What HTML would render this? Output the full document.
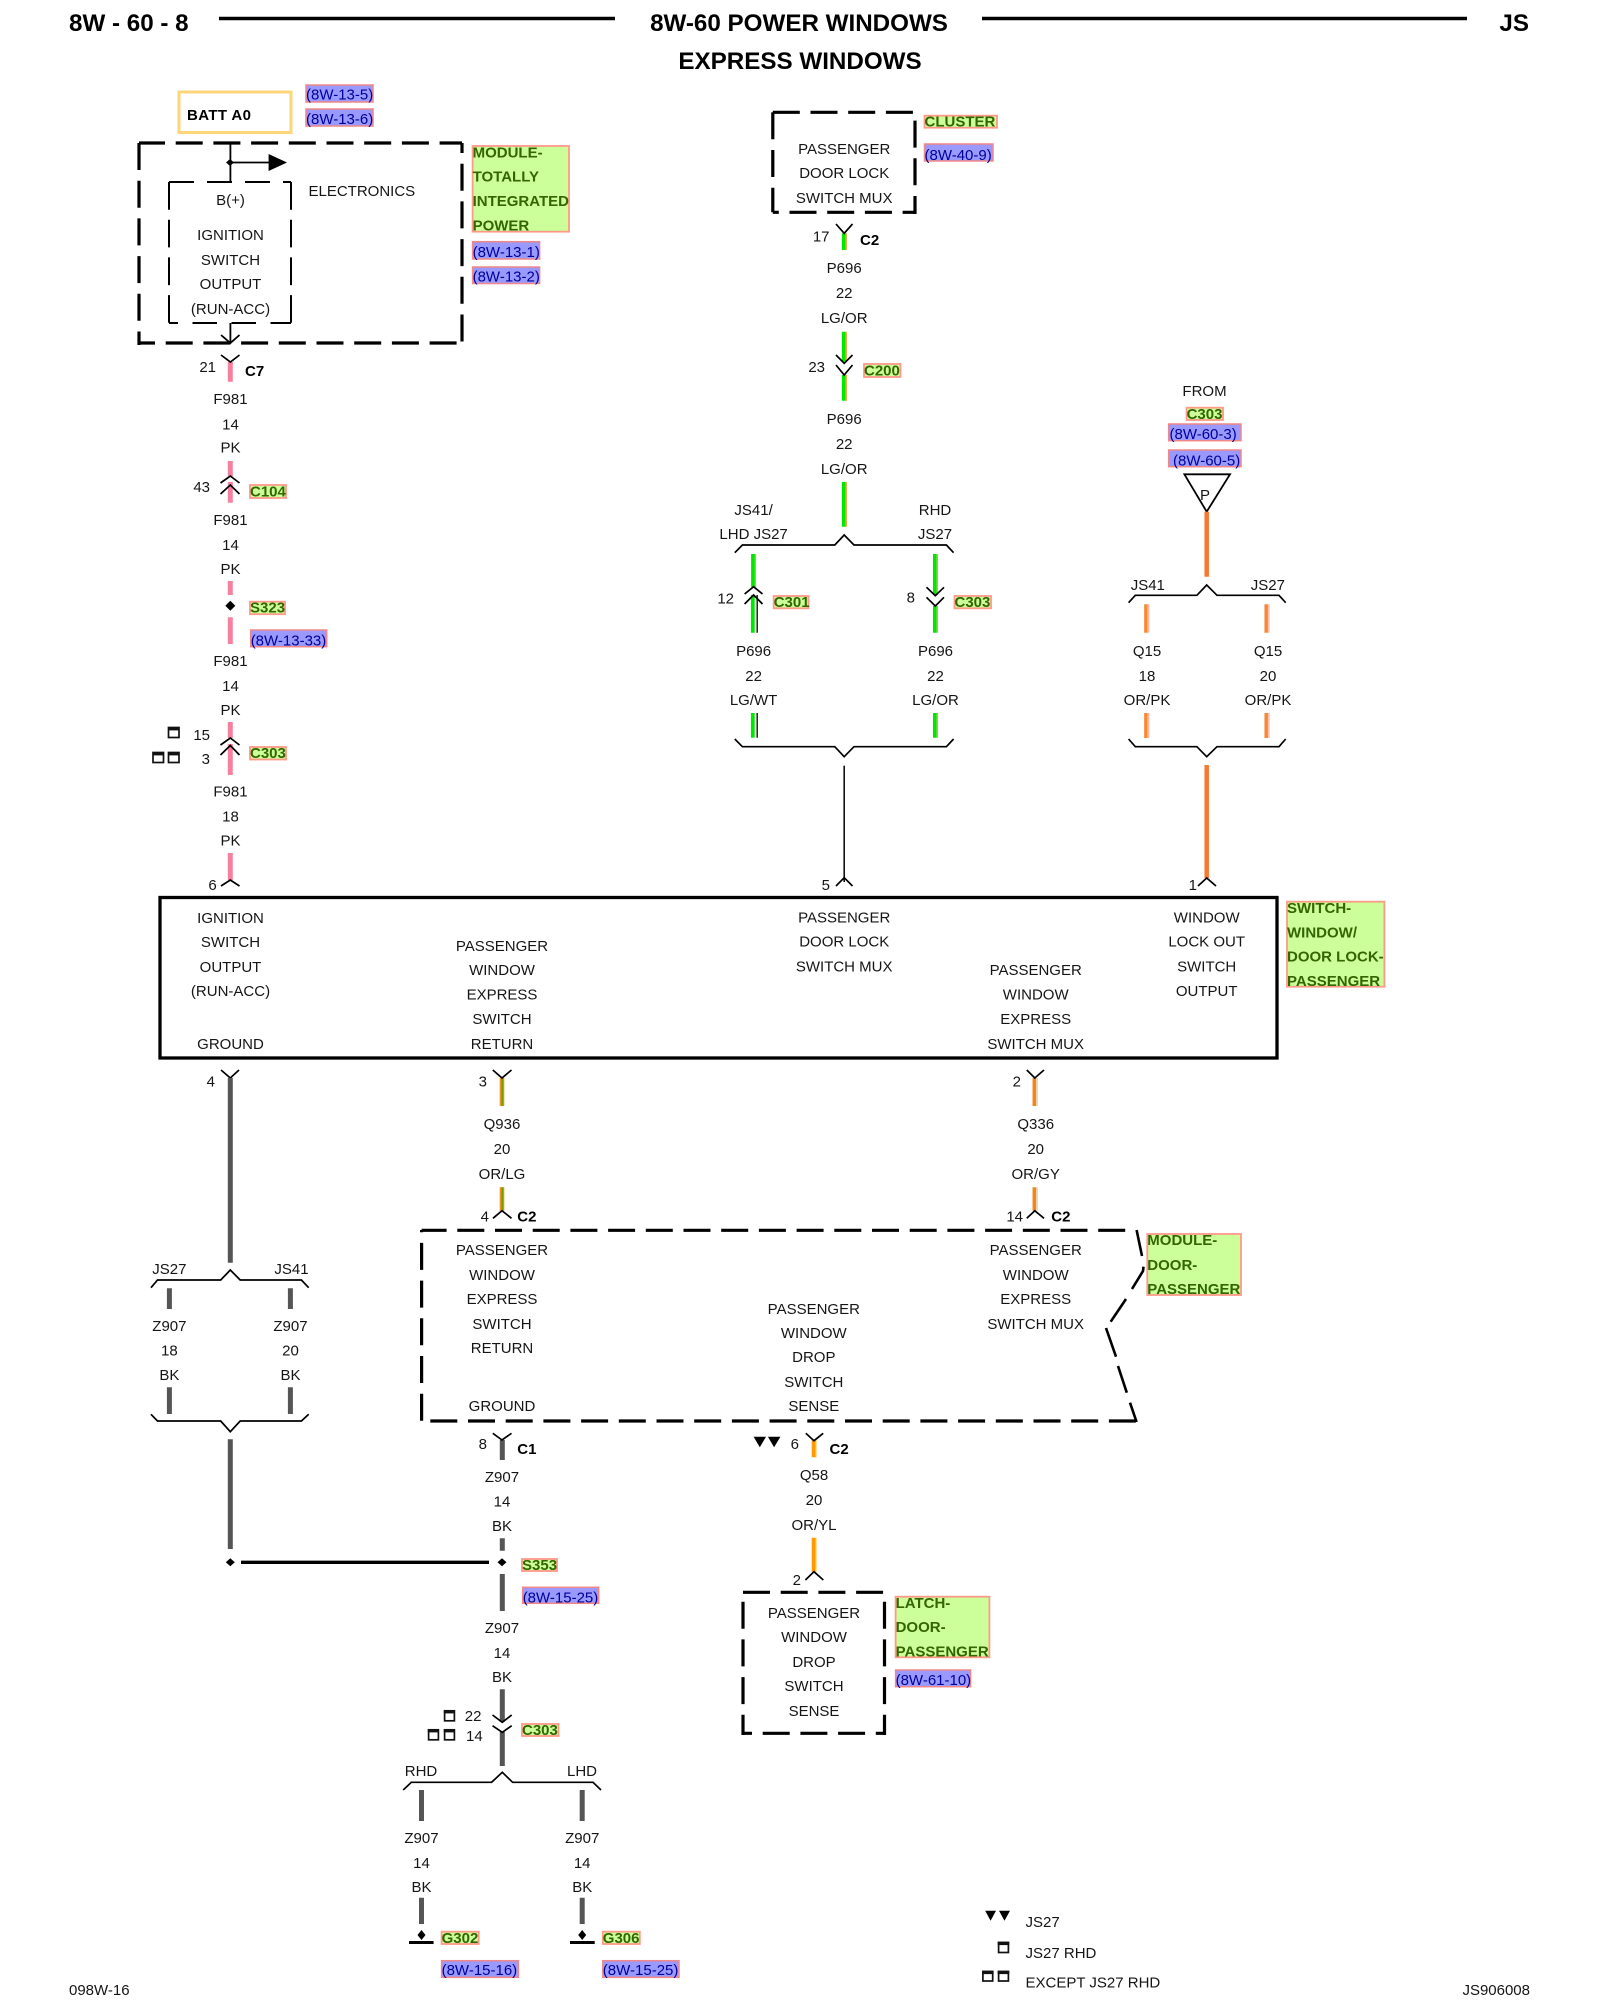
<!DOCTYPE html>
<html><head><meta charset="utf-8"><title>8W-60 Power Windows</title>
<style>
html,body{margin:0;padding:0;background:#fff}
svg{display:block}
text{font-family:"Liberation Sans",sans-serif;font-size:15px;fill:#151515}
.m{text-anchor:middle}.r{text-anchor:end}
.b{font-weight:bold;fill:#000}
.h{font-weight:bold;font-size:24.2px;fill:#000}
.g{font-weight:bold;fill:#336600}
.f{fill:#000099}
.lg{fill:#ccff99;stroke:#ff9988;stroke-width:1.8}
.lb{fill:#9999ff;stroke:#f08888;stroke-width:1.5}
.c{fill:none;stroke:#000;stroke-width:1.8}
.n{fill:none;stroke:#000;stroke-width:1.7}
.d4{fill:none;stroke:#000;stroke-width:3.2;stroke-dasharray:27 10.7}
.d2{fill:none;stroke:#000;stroke-width:2;stroke-dasharray:27.7 10}
.pk{stroke:#f8809f;stroke-width:5;fill:none}
.bk{stroke:#555;stroke-width:5;fill:none}
.i{fill:#fff;stroke:#111;stroke-width:1.7}
.ib{fill:#111}
</style></head><body>
<svg width="1600" height="2000" viewBox="0 0 1600 2000" xmlns="http://www.w3.org/2000/svg">
<rect width="1600" height="2000" fill="#fff"/>

<!-- header -->
<text class="h" x="69" y="31">8W - 60 - 8</text>
<path d="M219 18.5H615M982 18.5H1467" stroke="#000" stroke-width="3.4" fill="none"/>
<text class="h m" x="799" y="31">8W-60 POWER WINDOWS</text>
<text class="h m" x="800" y="69">EXPRESS WINDOWS</text>
<text class="h r" x="1529" y="31">JS</text>

<!-- BATT -->
<rect x="179" y="92" width="112" height="40.5" fill="#fff" stroke="#fdd67a" stroke-width="3"/>
<text class="b" x="187" y="120" textLength="64">BATT A0</text>
<rect class="lb" x="306" y="85" width="67" height="17"/><text class="f" x="306" y="99.5">(8W-13-5)</text>
<rect class="lb" x="306" y="109" width="67" height="17"/><text class="f" x="306" y="124">(8W-13-6)</text>

<!-- TIPM box -->
<path class="d4" d="M139 143H462" stroke-dashoffset="1"/>
<path class="d4" d="M139 343H462" stroke-dashoffset="11"/>
<path class="d4" d="M139 143V345"/>
<path class="d4" d="M462 143V343" stroke-dashoffset="17"/>
<path class="d2" style="stroke-dasharray:25 13" d="M169 182H291"/>
<path class="d2" style="stroke-dasharray:24.5 14.5" d="M169 323H291" stroke-dashoffset="15.5"/>
<path class="d2" d="M169 182V323"/>
<path class="d2" d="M291 182V323"/>
<path class="c" d="M230.4 143V182M230.4 162.5H270M230.4 323V343"/>
<polygon points="230,159 234,162.5 230,166 226,162.5" fill="#000"/>
<polygon points="268.6,154 287,162.5 268.6,171" fill="#000"/>
<path class="c" d="M221 335L230.4 343L239.5 335"/>
<text x="308.5" y="196">ELECTRONICS</text>
<text class="m" x="230.5" y="205">B(+)</text>
<text class="m" x="230.5" y="240">IGNITION</text>
<text class="m" x="230.5" y="265">SWITCH</text>
<text class="m" x="230.5" y="289">OUTPUT</text>
<text class="m" x="230.5" y="314">(RUN-ACC)</text>
<rect class="lg" x="472.6" y="146" width="96.4" height="85.7"/>
<text class="g" x="472.6" y="157.7">MODULE-</text>
<text class="g" x="472.6" y="181.7">TOTALLY</text>
<text class="g" x="472.6" y="206">INTEGRATED</text>
<text class="g" x="472.6" y="230.7">POWER</text>
<rect class="lb" x="472.6" y="241.7" width="67" height="17.3"/><text class="f" x="472.6" y="257">(8W-13-1)</text>
<rect class="lb" x="472.6" y="267" width="67" height="16.5"/><text class="f" x="472.6" y="281.7">(8W-13-2)</text>

<!-- F981 column -->
<path class="pk" d="M230.3 362V381.7M230.3 461V476.7M230.3 482V502.7M230.3 581V595M230.3 617.3V644M230.3 722V738M230.3 744V775M230.3 853V880"/>
<path class="n" d="M221 355L230.4 362L239.5 355"/>
<text class="r" x="216" y="372">21</text><text class="b" x="245" y="376">C7</text>
<text class="m" x="230.5" y="404">F981</text><text class="m" x="230.5" y="429.3">14</text><text class="m" x="230.5" y="452.7">PK</text>
<path class="n" d="M220.5 483L230.3 476L239.5 483M220.5 494L230.3 485L239.5 494"/>
<text class="r" x="210" y="492">43</text>
<rect class="lg" x="250" y="485" width="36" height="13"/><text class="g" x="250" y="496.7">C104</text>
<text class="m" x="230.5" y="525">F981</text><text class="m" x="230.5" y="550">14</text><text class="m" x="230.5" y="574">PK</text>
<polygon points="230.3,600.7 235.3,605.7 230.3,610.7 225.3,605.7" fill="#000"/>
<rect class="lg" x="250" y="601.7" width="35" height="12.5"/><text class="g" x="250" y="612.7">S323</text>
<rect class="lb" x="250.7" y="630" width="76" height="16.7"/><text class="f" x="250.7" y="645.7">(8W-13-33)</text>
<text class="m" x="230.5" y="666">F981</text><text class="m" x="230.5" y="691">14</text><text class="m" x="230.5" y="715">PK</text>
<path class="n" d="M220.5 745L230.3 738L239.5 745M220.5 755L230.3 745.5L239.5 755"/>
<text class="r" x="210" y="740">15</text><text class="r" x="210" y="764">3</text>
<rect class="i" x="168.5" y="727.5" width="10.5" height="10"/><rect class="ib" x="168" y="727" width="11.5" height="3.4"/>
<rect class="i" x="153" y="752.5" width="10.5" height="10"/><rect class="ib" x="152.5" y="752" width="11.5" height="3.4"/>
<rect class="i" x="168.5" y="752.5" width="10.5" height="10"/><rect class="ib" x="168" y="752" width="11.5" height="3.4"/>
<rect class="lg" x="250" y="747" width="36" height="12.5"/><text class="g" x="250" y="758">C303</text>
<text class="m" x="230.5" y="796.7">F981</text><text class="m" x="230.5" y="821.7">18</text><text class="m" x="230.5" y="845.7">PK</text>
<path class="n" d="M221 886L230.3 880L239.5 886"/>
<text class="r" x="216.7" y="890">6</text>

<!-- Cluster box -->
<path class="d4" d="M772.8 112.3H915"/>
<path class="d4" d="M772.8 212.3H915" stroke-dashoffset="21"/>
<path class="d4" d="M772.8 110.3V212.3" stroke-dashoffset="-2"/>
<path class="d4" d="M915 112.3V214" stroke-dashoffset="29.4"/>
<text class="m" x="844.2" y="154">PASSENGER</text><text class="m" x="844.2" y="178">DOOR LOCK</text><text class="m" x="844.2" y="203">SWITCH MUX</text>
<rect class="lg" x="924.5" y="115.7" width="72.5" height="12"/><text class="g" x="924.5" y="126.7">CLUSTER</text>
<rect class="lb" x="924.5" y="144" width="68.5" height="17"/><text class="f" x="924.5" y="160">(8W-40-9)</text>

<!-- P696 column -->
<g fill="none">
<path stroke="#00e800" stroke-width="3.8" d="M843.8 233.3V250M843.8 331.7V361.7M843.8 375V400.7M843.8 482V526.7M753 554V587M934.9 554V595M934.9 606V632.7M934.9 713V737.7"/>
<path stroke="#f2a040" stroke-width="1.2" d="M846.3 233.3V250M846.3 331.7V361.7M846.3 375V400.7M846.3 482V526.7M755.5 554V587M937.4 554V595M937.4 606V632.7M937.4 713V737.7"/>
<path stroke="#00e800" stroke-width="3.8" d="M752.8 595V632.7M752.8 713V737.7"/>
<path stroke="#222" stroke-width="1.5" d="M757.2 595V632.7M757.2 713V737.7"/>
</g>
<path class="n" d="M836 224L844.2 233.3L852.5 224"/>
<text class="r" x="829.5" y="241.7">17</text><text class="b" x="860" y="245">C2</text>
<text class="m" x="844.2" y="273">P696</text><text class="m" x="844.2" y="298">22</text><text class="m" x="844.2" y="323">LG/OR</text>
<path class="n" d="M836 355L844.2 363.3L852.5 355M836 365L844.2 375L852.5 365"/>
<text class="r" x="825" y="372">23</text>
<rect class="lg" x="864" y="364" width="36.5" height="13"/><text class="g" x="864" y="375.7">C200</text>
<text class="m" x="844.2" y="424">P696</text><text class="m" x="844.2" y="449">22</text><text class="m" x="844.2" y="474">LG/OR</text>
<text class="m" x="753.6" y="515">JS41/</text><text class="m" x="753.6" y="539">LHD JS27</text>
<text class="m" x="935" y="515">RHD</text><text class="m" x="935" y="539">JS27</text>
<path class="n" d="M734.8 552.7L742.4 545H834.8L844.2 535L854 545H946.4L953.6 552.7"/>
<path class="n" d="M744.6 594L753.6 586.7L762.5 594M744.6 604L753.6 595L762.5 604"/>
<text class="r" x="734" y="603.3">12</text>
<rect class="lg" x="773.7" y="596" width="34.8" height="12.3"/><text class="g" x="773.7" y="607">C301</text>
<path class="n" d="M926.5 587.3L935.3 595.7L944 587.3M926.5 597.3L935.3 606L944 597.3"/>
<text class="r" x="915" y="602.7">8</text>
<rect class="lg" x="954.5" y="596" width="36.5" height="12.3"/><text class="g" x="954.5" y="607">C303</text>
<text class="m" x="753.6" y="656">P696</text><text class="m" x="753.6" y="681">22</text><text class="m" x="753.6" y="705">LG/WT</text>
<text class="m" x="935.5" y="656">P696</text><text class="m" x="935.5" y="681">22</text><text class="m" x="935.5" y="705">LG/OR</text>
<path class="n" d="M734.8 739L742.4 746.7H834.8L844.2 756.7L854 746.7H946.4L953.6 739"/>
<path stroke="#111" stroke-width="1.6" d="M844.2 765.7V882" fill="none"/>
<path class="n" d="M836 886L844.2 877.7L852.5 886"/>
<text class="r" x="830" y="890">5</text>

<!-- Q15 column -->
<text class="m" x="1204.5" y="396">FROM</text>
<rect class="lg" x="1186.6" y="407.7" width="36.4" height="12.3"/><text class="g" x="1186.6" y="419">C303</text>
<rect class="lb" x="1168.7" y="424" width="72.3" height="16.7"/><text class="f" x="1169.5" y="439">(8W-60-3)</text>
<rect class="lb" x="1168.7" y="450" width="72.3" height="16.7"/><text class="f" x="1173" y="465.7">(8W-60-5)</text>
<polygon points="1184.4,474.3 1230,474.3 1206.7,511.7" fill="#fff" stroke="#000" stroke-width="1.8"/>
<text class="m" x="1205" y="500">P</text>
<g fill="none">
<path stroke="#f87830" stroke-width="4.5" d="M1206.7 511.7V576.7M1206.7 765V878"/>
<path stroke="#f58a35" stroke-width="3.5" d="M1145.9 604.3V632.7M1145.9 713V738M1266.2 604.3V632.7M1266.2 713V738"/>
<path stroke="#ffb8a0" stroke-width="1.5" d="M1148.6 604.3V632.7M1148.6 713V738M1268.9 604.3V632.7M1268.9 713V738"/>
</g>
<text class="m" x="1147.8" y="590">JS41</text><text class="m" x="1267.9" y="590">JS27</text>
<path class="n" d="M1128.6 602.7L1135.3 595.3H1196.9L1206.7 585L1217 595.3H1279L1285.7 602.7"/>
<text class="m" x="1147" y="656">Q15</text><text class="m" x="1147" y="681">18</text><text class="m" x="1147" y="705">OR/PK</text>
<text class="m" x="1268" y="656">Q15</text><text class="m" x="1268" y="681">20</text><text class="m" x="1268" y="705">OR/PK</text>
<path class="n" d="M1128.6 739L1135.3 746.7H1196.9L1206.7 756.7L1217 746.7H1279L1285.7 739"/>
<path class="n" d="M1198 886L1206.7 878L1216 886"/>
<text class="r" x="1197" y="890">1</text>

<!-- Main switch box -->
<rect x="160" y="897.5" width="1117" height="160.5" fill="none" stroke="#000" stroke-width="3.3"/>
<text class="m" x="230.5" y="923">IGNITION</text><text class="m" x="230.5" y="947">SWITCH</text><text class="m" x="230.5" y="972">OUTPUT</text><text class="m" x="230.5" y="996">(RUN-ACC)</text><text class="m" x="230.5" y="1049">GROUND</text>
<text class="m" x="502" y="951">PASSENGER</text><text class="m" x="502" y="975">WINDOW</text><text class="m" x="502" y="999.7">EXPRESS</text><text class="m" x="502" y="1024">SWITCH</text><text class="m" x="502" y="1049">RETURN</text>
<text class="m" x="844.2" y="922.7">PASSENGER</text><text class="m" x="844.2" y="946.7">DOOR LOCK</text><text class="m" x="844.2" y="971.7">SWITCH MUX</text>
<text class="m" x="1035.7" y="975">PASSENGER</text><text class="m" x="1035.7" y="999.5">WINDOW</text><text class="m" x="1035.7" y="1024">EXPRESS</text><text class="m" x="1035.7" y="1049">SWITCH MUX</text>
<text class="m" x="1206.7" y="922.7">WINDOW</text><text class="m" x="1206.7" y="946.7">LOCK OUT</text><text class="m" x="1206.7" y="971.7">SWITCH</text><text class="m" x="1206.7" y="996">OUTPUT</text>
<rect class="lg" x="1287" y="901.7" width="97.4" height="85"/>
<text class="g" x="1287" y="913">SWITCH-</text><text class="g" x="1287" y="937.3">WINDOW/</text><text class="g" x="1287" y="961.7">DOOR LOCK-</text><text class="g" x="1287" y="986">PASSENGER</text>

<!-- Ground left -->
<path class="n" d="M221 1070L230.3 1078L239 1070"/>
<path class="bk" d="M230.3 1078V1262.7M169.4 1288.3V1309M290.4 1288.3V1309M169.4 1387.3V1414M290.4 1387.3V1414M230.3 1439.3V1549M502.3 1460V1440M502.3 1538.3V1550.7M502.3 1574V1611M502.3 1689.3V1721.7M502.3 1732V1766M421.5 1790V1821M582.2 1790V1821M421.5 1897.7V1924M582.2 1897.7V1924"/>
<text class="r" x="215" y="1086.7">4</text>
<text class="m" x="169.4" y="1274">JS27</text><text class="m" x="291.5" y="1274">JS41</text>
<path class="n" d="M151 1287.7L157.5 1280H220.7L230.3 1270L240.2 1280H301.4L308.7 1287.7"/>
<text class="m" x="169.4" y="1331">Z907</text><text class="m" x="169.4" y="1355.7">18</text><text class="m" x="169.4" y="1380">BK</text>
<text class="m" x="290.5" y="1331">Z907</text><text class="m" x="290.5" y="1355.7">20</text><text class="m" x="290.5" y="1380">BK</text>
<path class="n" d="M151 1414.3L157.5 1421H220.7L230.3 1431.7L240.2 1421H301.4L308.7 1414.3"/>
<path stroke="#000" stroke-width="3.3" d="M241 1562.3H489" fill="none"/>
<polygon points="230.3,1558.3 234.8,1562.3 230.3,1566.3 225.8,1562.3" fill="#000"/>
<polygon points="502,1558.3 506.5,1562.3 502,1566.3 497.5,1562.3" fill="#000"/>

<!-- Q936 -->
<g fill="none">
<path stroke="#f09020" stroke-width="4.6" d="M502 1078V1106M502 1187.3V1210.7"/>
<path stroke="#70a000" stroke-width="1.8" d="M502.3 1078V1106M502.3 1187.3V1210.7"/>
<path stroke="#f08818" stroke-width="3.5" d="M1034.3 1078V1106M1034.3 1187.3V1210.7"/>
<path stroke="#e8c8a8" stroke-width="1.5" d="M1037 1078V1106M1037 1187.3V1210.7"/>
<path stroke="#ff9900" stroke-width="3.8" d="M813.6 1440V1457.3M813.6 1537.7V1571.7"/>
<path stroke="#ffcc55" stroke-width="1.2" d="M816 1440V1457.3M816 1537.7V1571.7"/>
</g>
<path class="n" d="M492.8 1070L502 1078L511.5 1070"/>
<text class="r" x="487" y="1086.7">3</text>
<text class="m" x="502" y="1129">Q936</text><text class="m" x="502" y="1154">20</text><text class="m" x="502" y="1179">OR/LG</text>
<path class="n" d="M493 1218.3L502 1210.7L511.5 1218.3"/>
<text class="r" x="489" y="1221.7">4</text><text class="b" x="517.3" y="1221.7">C2</text>
<path class="n" d="M1026.8 1070L1034.8 1078L1044 1070"/>
<text class="r" x="1021" y="1086.7">2</text>
<text class="m" x="1035.7" y="1129">Q336</text><text class="m" x="1035.7" y="1154">20</text><text class="m" x="1035.7" y="1179">OR/GY</text>
<path class="n" d="M1026.8 1218.3L1034.8 1210.7L1044 1218.3"/>
<text class="r" x="1023" y="1221.7">14</text><text class="b" x="1051.3" y="1221.7">C2</text>

<!-- Door module -->
<path class="d4" d="M421.6 1230.3H1128.6" stroke-dashoffset="2"/>
<path class="d4" d="M421.6 1421H1136.6" stroke-dashoffset="29"/>
<path class="d4" d="M421.6 1230V1423" stroke-dashoffset="24.8"/>
<path d="M1136.6 1230L1142 1256M1143.5 1266.7L1143 1271L1132 1289M1126 1299L1110.7 1321.7M1106 1328L1116 1356.7M1118 1366L1126.8 1392.7M1130 1402.7L1136.6 1422" fill="none" stroke="#000" stroke-width="2.6"/>
<text class="m" x="502" y="1255">PASSENGER</text><text class="m" x="502" y="1280">WINDOW</text><text class="m" x="502" y="1304">EXPRESS</text><text class="m" x="502" y="1329">SWITCH</text><text class="m" x="502" y="1353">RETURN</text><text class="m" x="502" y="1411">GROUND</text>
<text class="m" x="1035.7" y="1255">PASSENGER</text><text class="m" x="1035.7" y="1280">WINDOW</text><text class="m" x="1035.7" y="1304">EXPRESS</text><text class="m" x="1035.7" y="1329">SWITCH MUX</text>
<text class="m" x="813.8" y="1314">PASSENGER</text><text class="m" x="813.8" y="1338">WINDOW</text><text class="m" x="813.8" y="1362">DROP</text><text class="m" x="813.8" y="1387">SWITCH</text><text class="m" x="813.8" y="1411">SENSE</text>
<rect class="lg" x="1147.3" y="1234" width="93.7" height="61"/>
<text class="g" x="1147.3" y="1245">MODULE-</text><text class="g" x="1147.3" y="1270">DOOR-</text><text class="g" x="1147.3" y="1294">PASSENGER</text>

<!-- Below door module -->
<path class="n" d="M492.8 1433.3L502 1440L511.5 1433.3"/>
<text class="r" x="487" y="1449">8</text><text class="b" x="517.3" y="1454">C1</text>
<text class="m" x="502" y="1482">Z907</text><text class="m" x="502" y="1506.7">14</text><text class="m" x="502" y="1531">BK</text>
<rect class="lg" x="522" y="1559" width="35" height="12"/><text class="g" x="522" y="1570">S353</text>
<rect class="lb" x="522.7" y="1587.3" width="76" height="16"/><text class="f" x="522.7" y="1602.3">(8W-15-25)</text>
<text class="m" x="502" y="1633">Z907</text><text class="m" x="502" y="1658">14</text><text class="m" x="502" y="1682">BK</text>
<path class="n" d="M492.5 1715L502.3 1722.3L511.7 1715M492.5 1725.7L502.3 1732.3L511.7 1725.7"/>
<text x="464.8" y="1721">22</text><text x="466" y="1741">14</text>
<rect class="i" x="444.6" y="1710.8" width="9.8" height="10"/><rect class="ib" x="443.8" y="1710" width="11.2" height="3.4"/>
<rect class="i" x="428.6" y="1729.8" width="9.8" height="10"/><rect class="ib" x="427.8" y="1729" width="11.2" height="3.4"/>
<rect class="i" x="444.6" y="1729.8" width="9.8" height="10"/><rect class="ib" x="443.8" y="1729" width="11.2" height="3.4"/>
<rect class="lg" x="522" y="1724" width="36.5" height="12"/><text class="g" x="522" y="1735">C303</text>
<text class="m" x="421" y="1776">RHD</text><text class="m" x="582" y="1776">LHD</text>
<path class="n" d="M403.2 1790L411.3 1782.3H491.6L502.3 1772.3L512.6 1782.3H593L601 1790"/>
<text class="m" x="421.5" y="1843">Z907</text><text class="m" x="421.5" y="1868">14</text><text class="m" x="421.5" y="1892">BK</text>
<text class="m" x="582.2" y="1843">Z907</text><text class="m" x="582.2" y="1868">14</text><text class="m" x="582.2" y="1892">BK</text>
<polygon points="421.5,1930 425.5,1935 421.5,1940 417.5,1935" fill="#000"/>
<rect x="409" y="1941" width="24.6" height="3" fill="#000"/>
<polygon points="582.2,1930 586.2,1935 582.2,1940 578.2,1935" fill="#000"/>
<rect x="570" y="1941" width="24.7" height="3" fill="#000"/>
<rect class="lg" x="441.6" y="1931.7" width="37.1" height="12.3"/><text class="g" x="441.6" y="1943">G302</text>
<rect class="lg" x="602.8" y="1931.7" width="37" height="12.3"/><text class="g" x="602.8" y="1943">G306</text>
<rect class="lb" x="441.6" y="1960.7" width="76.8" height="16.6"/><text class="f" x="441.6" y="1975">(8W-15-16)</text>
<rect class="lb" x="602.8" y="1960.7" width="76.2" height="16.6"/><text class="f" x="602.8" y="1975">(8W-15-25)</text>

<!-- Q58 and latch -->
<polygon points="753.6,1436.7 766,1436.7 759.8,1447.3" fill="#000"/>
<polygon points="767.9,1436.7 780.4,1436.7 774.1,1447.3" fill="#000"/>
<text class="r" x="799" y="1449">6</text>
<path class="n" d="M805.8 1433.3L814 1440.7L823.2 1433.3"/>
<text class="b" x="829.5" y="1454">C2</text>
<text class="m" x="814" y="1480">Q58</text><text class="m" x="814" y="1505">20</text><text class="m" x="814" y="1530">OR/YL</text>
<path class="n" d="M805.4 1580L814 1571.7L823.3 1580"/>
<text class="r" x="801" y="1585">2</text>
<path class="d4" d="M743 1592.3H884.5"/>
<path class="d4" d="M743 1733.3H884.5" stroke-dashoffset="18"/>
<path class="d4" d="M743 1592.3V1735" stroke-dashoffset="28.3"/>
<path class="d4" d="M884.5 1592.3V1735" stroke-dashoffset="28.3"/>
<text class="m" x="814" y="1618">PASSENGER</text><text class="m" x="814" y="1642">WINDOW</text><text class="m" x="814" y="1667">DROP</text><text class="m" x="814" y="1691">SWITCH</text><text class="m" x="814" y="1716">SENSE</text>
<rect class="lg" x="895.6" y="1596.7" width="93.8" height="60.6"/>
<text class="g" x="895.6" y="1608">LATCH-</text><text class="g" x="895.6" y="1632">DOOR-</text><text class="g" x="895.6" y="1656.7">PASSENGER</text>
<rect class="lb" x="895.6" y="1670" width="75" height="16.7"/><text class="f" x="895.6" y="1685">(8W-61-10)</text>

<!-- Legend -->
<polygon points="985.2,1910.7 996,1910.7 990.6,1920.7" fill="#000"/>
<polygon points="999,1910.7 1010,1910.7 1004.5,1920.7" fill="#000"/>
<text x="1025.5" y="1927">JS27</text>
<rect class="i" x="998.6" y="1942.5" width="9.8" height="10"/><rect class="ib" x="997.7" y="1941.7" width="11.6" height="3.4"/>
<text x="1025.5" y="1958">JS27 RHD</text>
<rect class="i" x="982.9" y="1971.5" width="9.8" height="9.5"/><rect class="ib" x="982" y="1970.7" width="11.6" height="3.4"/>
<rect class="i" x="998.6" y="1971.5" width="9.8" height="9.5"/><rect class="ib" x="997.7" y="1970.7" width="11.6" height="3.4"/>
<text x="1025.5" y="1987.5">EXCEPT JS27 RHD</text>

<text x="69" y="1995">098W-16</text>
<text class="r" x="1530" y="1995">JS906008</text>
</svg>
</body></html>
